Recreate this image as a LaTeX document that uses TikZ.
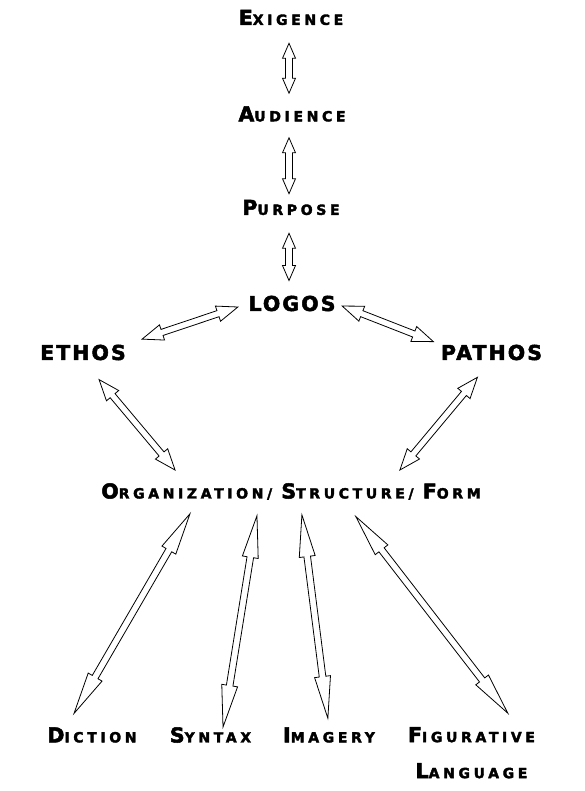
\documentclass[tikz,border=0pt]{standalone}
\usepackage{fontspec}
\setmainfont{DejaVu Sans}
\newfontfamily\bigcaps[LetterSpace=10, FakeBold=2.5]{DejaVu Sans Bold}
\newfontfamily\smallcaps[LetterSpace=26, FakeBold=2.5]{DejaVu Sans Bold}
\usetikzlibrary{calc}
\newcommand\capsc[2]{{\bigcaps\fontsize{20.5}{25}\selectfont #1}{\smallcaps\fontsize{14}{17}\selectfont #2}}
\tikzset{
  term/.style={inner sep=0pt, font=\bigcaps\fontsize{20.5}{25}\selectfont},
  gapfrom/.store in=\gapfrom, gapto/.store in=\gapto,
  headlen/.store in=\headlen, headwid/.store in=\headwid, shaftwid/.store in=\shaftwid,
  gapfrom=0pt, gapto=0pt,
  link/.style={draw, line width=0.8pt, to path={
    let \p1=(\tikztostart), \p2=(\tikztotarget),
        \n1={atan2(\y2-\y1,\x2-\x1)}, \n2={veclen(\x2-\x1,\y2-\y1)} in
    {[shift={(\p1)}, rotate=\n1]
      (\gapfrom,0pt) -- ({\gapfrom+\headlen},\headwid) -- ({\gapfrom+\headlen},\shaftwid)
      -- ({\n2-\gapto-\headlen},\shaftwid) -- ({\n2-\gapto-\headlen},\headwid)
      -- ({\n2-\gapto},0pt) -- ({\n2-\gapto-\headlen},-\headwid)
      -- ({\n2-\gapto-\headlen},-\shaftwid) -- ({\gapfrom+\headlen},-\shaftwid)
      -- ({\gapfrom+\headlen},-\headwid) -- cycle}
  }},
  short/.style={link, headlen=15pt, headwid=6.5pt, shaftwid=3.5pt},
  mid/.style={link, headlen=21pt, headwid=8pt, shaftwid=3.2pt},
  long/.style={link, headlen=42pt, headwid=8pt, shaftwid=3.3pt}
}

\begin{document}
\begin{tikzpicture}[x=1pt, y=-1pt]
  \useasboundingbox (0,0) rectangle (584,791);

  \node[term] (exigence) at (291,17.5) {\capsc{E}{XIGENCE}};
  \node[term] (audience) at (292,114) {\capsc{A}{UDIENCE}};
  \node[term] (purpose) at (291,207.5) {\capsc{P}{URPOSE}};
  \node[term] (logos) at (292,303.5) {LOGOS};
  \node[term] (ethos) at (83,352.5) {ETHOS};
  \node[term] (pathos) at (491.5,352.5) {PATHOS};
  \node[term] (form) at (291,491.5) {\capsc{O}{RGANIZATION/} \capsc{S}{TRUCTURE/} \capsc{F}{ORM}};
  \node[term] (diction) at (92,735) {\capsc{D}{ICTION}};
  \node[term] (syntax) at (210.5,735) {\capsc{S}{YNTAX}};
  \node[term] (imagery) at (329,735) {\capsc{I}{MAGERY}};
  \node[term, align=center, anchor=north] (figurative) at (471.5,727)
    {\capsc{F}{IGURATIVE}\\[11pt]\capsc{L}{ANGUAGE}};

  \draw[short, gapfrom=18pt, gapto=13pt] ([xshift=-2pt]exigence.south) to ([xshift=-3pt]audience.north);
  \draw[short, gapfrom=16pt, gapto=6pt] ([xshift=-3pt]audience.south) to ([xshift=-2pt]purpose.north);
  \draw[short, gapfrom=18pt, gapto=15pt] ([xshift=-2pt]purpose.south) to ([xshift=-3pt]logos.north);

  \draw[mid, gapfrom=11pt, gapto=17pt] (logos.west) to (ethos.north east);
  \draw[mid, gapfrom=7pt, gapto=8pt] (logos.east) to (pathos.north west);
  \draw[mid, gapfrom=25pt, gapto=17pt] (ethos.south) to ([xshift=-105pt]form.north);
  \draw[mid, gapfrom=22pt, gapto=17pt] (pathos.south) to ([xshift=98pt]form.north);

  \draw[long, gapfrom=16pt, gapto=16pt] ([xshift=-93pt]form.south) to ([xshift=-26pt]diction.north);
  \draw[long, gapfrom=16pt, gapto=0pt] ([xshift=-31.5pt]form.south) to ([xshift=12.5pt]syntax.north);
  \draw[long, gapfrom=15pt, gapto=9pt] ([xshift=9pt]form.south) to (imagery.north);
  \draw[long, gapfrom=21pt, gapto=17.5pt] ([xshift=52pt]form.south) to ([xshift=47pt]figurative.north);
\end{tikzpicture}
\end{document}
